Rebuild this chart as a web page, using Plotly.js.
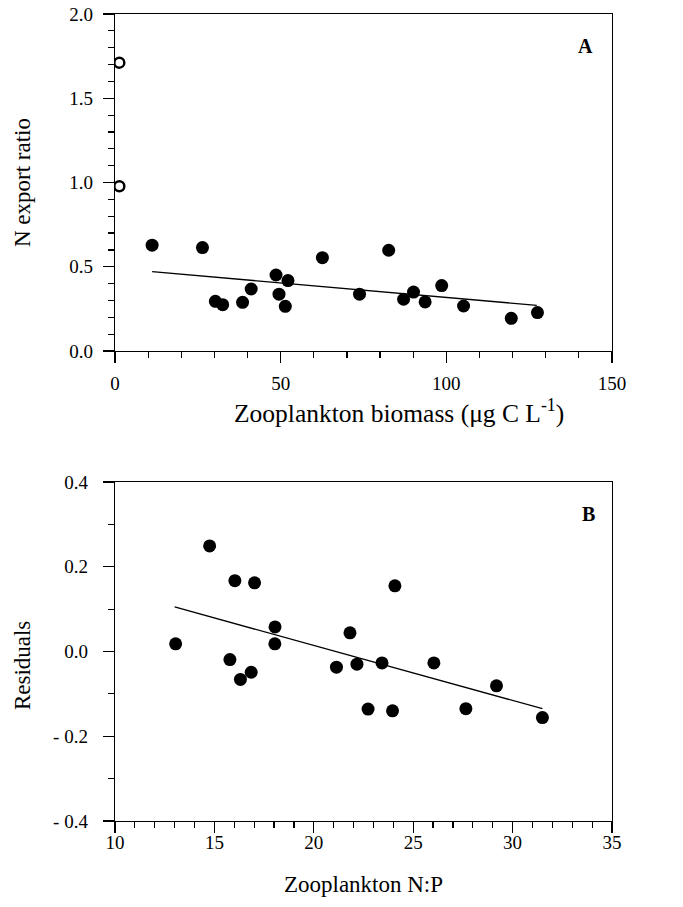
<!DOCTYPE html>
<html>
<head>
<meta charset="utf-8">
<script src="https://cdn.plot.ly/plotly-3.0.1.min.js"></script>
<style>
html,body{margin:0;padding:0;background:#fff;}
#chart{width:683px;height:907px;}
</style>
</head>
<body>
<div id="chart"></div>
<script>
// Panel A: N export ratio vs zooplankton biomass
const biomassFilled = [11.2, 26.4, 30.3, 32.5, 38.5, 41.1, 48.6, 49.5, 51.4, 52.2, 62.6, 73.8, 82.6, 87.1, 90.1, 93.6, 98.6, 105.2, 119.6, 127.5];
const exportFilled  = [0.628, 0.614, 0.295, 0.275, 0.289, 0.368, 0.451, 0.337, 0.265, 0.418, 0.554, 0.337, 0.598, 0.307, 0.350, 0.291, 0.388, 0.267, 0.194, 0.228];
const biomassOpen = [1.3, 1.3];
const exportOpen  = [1.711, 0.978];
const fitA_x = [11.2, 127.3];
const fitA_y = [0.471, 0.271];

// Panel B: residuals vs zooplankton N:P
const npRatio   = [13.05, 14.76, 16.03, 17.02, 15.78, 16.31, 16.85, 18.05, 18.04, 21.14, 21.82, 22.17, 22.73, 23.43, 23.96, 24.08, 26.04, 27.65, 29.19, 31.50];
const residuals = [0.018, 0.249, 0.167, 0.162, -0.019, -0.066, -0.049, 0.058, 0.018, -0.037, 0.044, -0.030, -0.136, -0.027, -0.140, 0.155, -0.027, -0.135, -0.081, -0.156];
const fitB_x = [13.0, 31.5];
const fitB_y = [0.105, -0.135];

const yTickValsB = [-0.4, -0.2, 0.0, 0.2, 0.4];
const yTickTextB = ['- 0.4', '- 0.2', '0.0', '0.2', '0.4'];

const titleA_x = 'Zooplankton biomass (μg C L<sup>-1</sup>)';
const titleA_y = 'N export ratio';
const titleB_x = 'Zooplankton N:P';
const titleB_y = 'Residuals';

const FONT = 'Liberation Serif, Times New Roman, serif';

const traces = [
  {x: fitA_x, y: fitA_y, xaxis: 'x', yaxis: 'y', mode: 'lines', line: {color: '#000', width: 1.3}, hoverinfo: 'skip'},
  {x: biomassFilled, y: exportFilled, xaxis: 'x', yaxis: 'y', mode: 'markers', marker: {color: '#000', size: 13, symbol: 'circle'}},
  {x: biomassOpen, y: exportOpen, xaxis: 'x', yaxis: 'y', mode: 'markers', marker: {color: '#000', size: 10, symbol: 'circle-open', line: {width: 2.5, color: '#000'}}},
  {x: fitB_x, y: fitB_y, xaxis: 'x2', yaxis: 'y2', mode: 'lines', line: {color: '#000', width: 1.3}, hoverinfo: 'skip'},
  {x: npRatio, y: residuals, xaxis: 'x2', yaxis: 'y2', mode: 'markers', marker: {color: '#000', size: 13, symbol: 'circle'}}
];

function axisBase() {
  return {
    showgrid: false, zeroline: false, showline: true, linecolor: '#000', linewidth: 1.3,
    mirror: true, ticks: 'outside', ticklen: 11, tickwidth: 1.3, tickcolor: '#000',
    tickfont: {family: FONT, size: 19, color: '#000'}
  };
}
function minorTicks(d) {
  return {dtick: d, ticklen: 6, tickwidth: 1.2, tickcolor: '#000', ticks: 'outside', showgrid: false};
}

const layout = {
  width: 683, height: 907,
  paper_bgcolor: '#fff', plot_bgcolor: '#fff',
  showlegend: false,
  margin: {l: 115, r: 71, t: 14, b: 86},
  xaxis: Object.assign(axisBase(), {
    domain: [0, 1], anchor: 'y', range: [0, 150], tickmode: 'linear', tick0: 0, dtick: 50,
    minor: minorTicks(10),
    ticklabelstandoff: 4
  }),
  yaxis: Object.assign(axisBase(), {
    domain: [0.5824, 1], anchor: 'x', range: [0, 2], tickmode: 'linear', tick0: 0, dtick: 0.5, tickformat: '.1f',
    minor: minorTicks(0.1),
    ticklabelstandoff: 6,
    title: {text: titleA_y, font: {family: FONT, size: 23, color: '#000'}, standoff: 32}
  }),
  xaxis2: Object.assign(axisBase(), {
    domain: [0, 1], anchor: 'y2', range: [10, 35], tickmode: 'linear', tick0: 10, dtick: 5,
    minor: minorTicks(1),
    ticklabelstandoff: -7,
    title: {text: titleB_x, font: {family: FONT, size: 23, color: '#000'}, standoff: 23}
  }),
  yaxis2: Object.assign(axisBase(), {
    domain: [0, 0.4201], anchor: 'x2', range: [-0.4, 0.4], tickmode: 'array', tickvals: yTickValsB, ticktext: yTickTextB,
    minor: {dtick: 0.1, tick0: 0, ticklen: 6, tickwidth: 1.2, tickcolor: '#000', ticks: 'outside', showgrid: false},
    ticklabelstandoff: 11
  }),
  annotations: [
    {text: titleA_x, xref: 'paper', yref: 'paper', x: 0.5714, y: 0.507, xanchor: 'center', yanchor: 'middle',
     showarrow: false, font: {family: FONT, size: 25.5, color: '#000'}},
    {text: titleB_y, xref: 'paper', yref: 'paper', x: -0.187, y: 0.192, xanchor: 'center', yanchor: 'middle', textangle: -90,
     showarrow: false, font: {family: FONT, size: 23, color: '#000'}},
    {text: '<b>A</b>', xref: 'x', yref: 'y', x: 142, y: 1.81, showarrow: false, font: {family: FONT, size: 20, color: '#000'}},
    {text: '<b>B</b>', xref: 'x2', yref: 'y2', x: 33.8, y: 0.325, showarrow: false, font: {family: FONT, size: 20, color: '#000'}}
  ]
};

Plotly.newPlot('chart', traces, layout, {staticPlot: true, displayModeBar: false});
</script>
</body>
</html>
